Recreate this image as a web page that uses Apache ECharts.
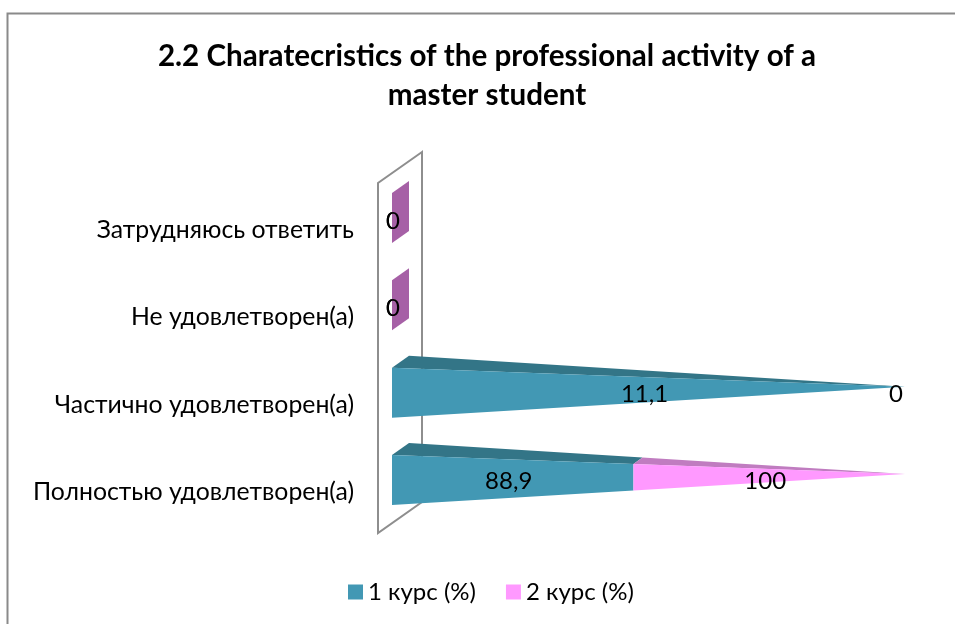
<!DOCTYPE html>
<html><head><meta charset="utf-8">
<style>html,body{margin:0;padding:0;background:#fff}#c{width:955px;height:624px}</style>
<script src="https://cdn.jsdelivr.net/npm/echarts@6/dist/echarts.min.js"></script>
</head><body><div id="c"></div>
<script>
const categories = ['Полностью удовлетворен(а)', 'Частично удовлетворен(а)', 'Не удовлетворен(а)', 'Затрудняюсь ответить'];
const course1 = [88.9, 11.1, 0, 0];
const course2 = [100, 0, 0, 0];
const seriesNames = ['1 курс (%)', '2 курс (%)'];
const titleText = '2.2 Charatecristics of the professional activity of a\nmaster student';
const FONT = 'Lato, "Open Sans", sans-serif';

// 100% stacked: each row's sections are shares of that row's total
function rows(values, isSecond) {
  return values.map((v, i) => {
    const total = course1[i] + course2[i];
    const s = total ? course1[i] / total * 100 : 0;
    const e = total ? (course1[i] + course2[i]) / total * 100 : 0;
    return isSecond ? [i, s, e, v] : [i, 0, s, v];
  });
}
const fmt = v => String(v).replace('.', ',');

function cone(front, top, zeroColor) {
  return function (params, api) {
    const cat = api.value(0), x0 = api.value(1), x1 = api.value(2), val = api.value(3);
    const pS = api.coord([x0, cat]), pE = api.coord([x1, cat]);
    const base = api.coord([0, cat]), tipP = api.coord([100, cat]);
    const cy = base[1], band = api.size([0, 1])[1];
    const h = band * 0.2863, dx = 17, dy = 12;
    const tip = [tipP[0], cy - dy / 2];
    const lerp = (a, t) => [a[0] + (tip[0] - a[0]) * t, a[1] + (tip[1] - a[1]) * t];
    const ft = [base[0], cy - h], fb = [base[0], cy + h], bt = [base[0] + dx, cy - h - dy], bb = [base[0] + dx, cy + h - dy];
    const span = tipP[0] - base[0];
    const t0 = (pS[0] - base[0]) / span, t1 = (pE[0] - base[0]) / span;
    const children = [];
    if (x1 > x0) {
      children.push({ type: 'polygon', shape: { points: [lerp(bt, t0), lerp(bt, t1), lerp(ft, t1), lerp(ft, t0)] }, style: { fill: top } });
      children.push({ type: 'polygon', shape: { points: [lerp(ft, t0), lerp(ft, t1), lerp(fb, t1), lerp(fb, t0)] }, style: { fill: front } });
    } else if (zeroColor && x1 === 0) {
      children.push({ type: 'polygon', shape: { points: [ft, bt, bb, fb] }, style: { fill: zeroColor } });
    }
    const mid = (pS[0] + pE[0]) / 2;
    let lx = mid, ly = cy + 1;
    if (x1 > x0) { lx = mid - 4; }
    else if (x1 > 0) { lx = mid - 9; }
    else { lx = mid + 1; ly = cy + 3; }
    children.push({ type: 'text', z2: 10, style: { text: fmt(val), x: lx, y: ly + (cat === 1 ? 1 : 0), align: 'center', verticalAlign: 'middle', fill: '#000', font: '24px ' + FONT } });
    return { type: 'group', children };
  };
}

const chart = echarts.init(document.getElementById('c'), null, { renderer: 'canvas' });
chart.setOption({
  animation: false,
  backgroundColor: '#fff',
  title: { text: titleText, left: 482, top: 32, textAlign: 'center',
    textStyle: { fontFamily: FONT, fontSize: 29.6, fontWeight: 'bold', color: '#000', lineHeight: 39 } },
  legend: { left: 343, top: 575, itemWidth: 15, itemHeight: 15, itemGap: 30, icon: 'rect',
    data: seriesNames, textStyle: { fontFamily: FONT, fontSize: 24, color: '#000' } },
  grid: { left: 392, right: 50, top: 174.33, height: 349.33 },
  xAxis: { type: 'value', min: 0, max: 100, show: false },
  yAxis: { type: 'category', data: categories, axisLine: { show: false }, axisTick: { show: false },
    axisLabel: { margin: 38, fontFamily: FONT, fontSize: 24.8, color: '#000', verticalAlign: 'top', lineHeight: 24 } },
  graphic: [
    { type: 'rect', z: 0, silent: true, shape: { x: 7.5, y: 13.5, width: 1000, height: 1000 }, style: { fill: 'none', stroke: '#8a8a8a', lineWidth: 2 } },
    { type: 'polygon', z: 0, silent: true, shape: { points: [[422, 152], [378, 183], [378, 533], [422, 502]] }, style: { fill: 'none', stroke: '#8e8e8e', lineWidth: 2 } }
  ],
  series: [
    { type: 'custom', name: seriesNames[0], z: 3, clip: false, itemStyle: { color: '#4298B4' }, encode: { x: [1, 2], y: 0 },
      renderItem: cone('#4298B4', '#337587', null), data: rows(course1, false) },
    { type: 'custom', name: seriesNames[1], z: 4, clip: false, itemStyle: { color: '#FF99FF' }, encode: { x: [1, 2], y: 0 },
      renderItem: cone('#FF99FF', '#C07CC0', '#A660A6'), data: rows(course2, true) }
  ]
});
</script></body></html>
